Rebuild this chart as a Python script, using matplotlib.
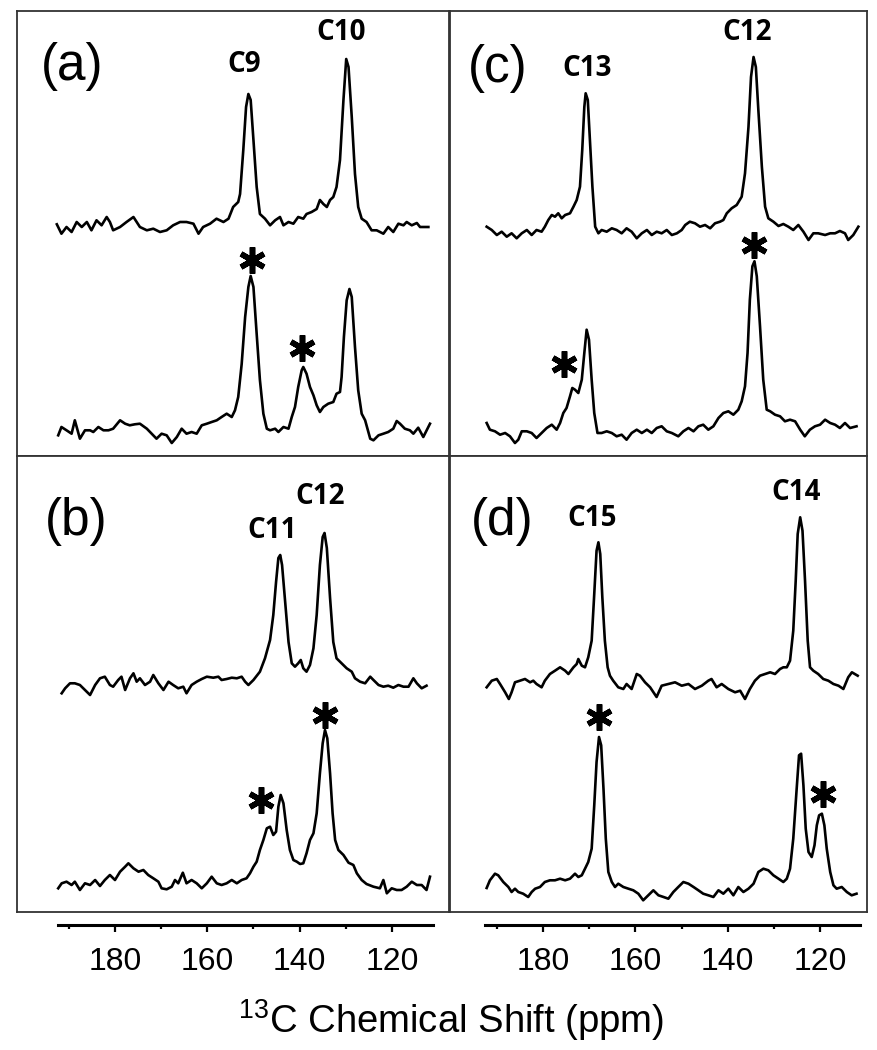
import matplotlib.pyplot as plt
import numpy as np

plt.rcParams['font.family'] = ['Liberation Sans', 'DejaVu Sans']

# ---- spectra: (ppm, intensity), intensity in arbitrary units ----
a_top_ppm = [192.6, 191.6, 190.5, 189.4, 188.3, 187.2, 186.1, 185.1, 184.0, 182.9, 181.8, 181.1, 180.4,
             178.9, 177.5, 176.0, 174.6, 173.1, 171.7, 170.25, 168.8, 167.4, 165.9, 164.5, 163.0, 161.9,
             160.9, 159.4, 158.0, 156.5, 155.4, 154.4, 153.3, 152.9, 152.2, 151.6, 151.1, 150.6, 150.0,
             149.3, 148.6, 147.5, 146.4, 145.3, 144.25, 143.5, 142.4, 141.35, 140.3, 139.2, 138.5, 137.4,
             136.3, 135.6, 134.85, 134.1, 133.4, 132.7, 132.0, 131.25, 130.5, 129.9, 129.4, 128.7, 128.0,
             127.3, 126.55, 125.5, 124.4, 123.3, 121.85, 120.8, 119.7, 118.6, 117.5, 116.8, 115.7, 114.6,
             113.9, 112.1]
a_top_int = [2.7, -6.7, 0, -5, 5, 0, 5, -3.3, 6.7, 1.7, 10, 5, -3.3,
             0, 5, 10, 0, -3.3, -1.7, -5, -3.3, 1.7, 5, 5, 3.3, -6.7,
             0, 3.3, 8.3, 5, 8.3, 20, 25, 33, 77, 120, 133, 127, 87,
             40, 13, 8.3, 1.7, 6.7, 10, 1.7, 5, 3.3, 10, 8.3, 13, 15,
             18, 27, 23, 20, 27, 30, 40, 67, 127, 168, 160, 110, 53,
             20, 8.3, 5, -3.3, -3.3, -6.7, 0, -5, 3.3, 1.7, 5, 1.7, 4,
             0, 0]

a_bot_ppm = [192.3, 191.6, 190.5, 189.4, 188.7, 187.6, 186.5, 185.4, 184.7, 183.6, 182.5, 181.4, 180.4,
             178.9, 177.8, 176.8, 175.7, 174.6, 173.1, 172.05, 171.0, 169.9, 168.8, 167.7, 166.6, 165.55,
             164.5, 163.4, 162.3, 161.2, 160.1, 159.05, 157.95, 156.9, 155.8, 154.7, 154.0, 153.3, 152.55,
             151.8, 151.1, 150.6, 150.0, 149.3, 148.6, 147.85, 147.1, 146.4, 145.3, 144.6, 143.5, 142.4,
             141.7, 141.0, 140.3, 139.55, 139.2, 138.5, 137.75, 137.0, 136.3, 135.6, 134.85, 133.8, 132.7,
             132.0, 131.25, 130.9, 130.4, 129.8, 129.2, 128.7, 128.0, 127.3, 126.55, 125.8, 124.7, 124.0,
             122.9, 121.85, 120.8, 119.7, 118.96, 118.25, 117.2, 116.1, 115.35, 114.3, 113.2, 111.75]
a_bot_int = [-3.3, 5, 1.7, -1.7, 11.7, -6.7, 1.7, 1.7, 0, 5, 1.7, 1.7, 3.3,
             11.7, 8.3, 6.7, 7.7, 8.3, 3.3, -1.7, -6.7, -1.7, -3.3, -11, -5, 3.3,
             -1.7, 0, -1.7, 6.7, 8.3, 10, 11.7, 15, 18.3, 15, 21.7, 35, 68,
             115, 145, 156, 145, 98, 52, 18.3, 3.3, 1.7, 3.3, 0, 5, 3.3,
             15, 25, 45, 61.7, 65, 58.3, 45, 36.7, 26.7, 20, 25, 28.3, 30,
             38.3, 40, 55, 95, 131.7, 143, 135, 85, 41.7, 18.3, 11.7, -6.7, -8.3,
             -3.3, -1.7, 0, 3.3, 11, 8.3, 3.3, 1.7, -1.7, 4.3, -5, 8.3]

b_top_ppm = [191.55, 190.8, 189.75, 188.7, 187.6, 186.5, 185.4, 184.3, 183.25, 182.2, 181.1, 180.4, 179.3,
             178.6, 177.8, 176.75, 176.0, 175.3, 174.6, 173.5, 172.4, 171.7, 170.6, 169.5, 168.4, 167.4,
             166.3, 165.2, 164.5, 163.4, 162.3, 161.2, 160.1, 158.7, 157.6, 156.9, 155.8, 154.7, 153.6,
             152.55, 151.8, 151.1, 150.0, 148.6, 147.5, 146.4, 145.7, 145.1, 144.6, 144.2, 143.8, 143.2,
             142.4, 141.7, 141.0, 140.3, 139.75, 139.2, 138.5, 137.75, 137.0, 136.3, 135.6, 135.0, 134.6,
             134.1, 133.4, 132.7, 132.0, 130.9, 129.8, 128.7, 128.0, 126.9, 125.8, 124.7, 124.0, 122.9,
             121.85, 120.8, 119.7, 118.6, 117.5, 116.4, 115.35, 114.6, 113.55, 112.5]
b_top_int = [-8.3, -3.3, 1.7, 1.7, 0, -5, -10, 0, 6.7, 8.3, 0, -1.7, 5,
             8.3, -5, 6.7, 11.7, 3.3, 6.7, 0, 3.3, 10, 1.7, -5, 3.3, 0,
             -3.3, -1.7, -8.3, 0, 3.3, 6, 8.3, 7.3, 8.3, 5, 6, 7.3, 6.7,
             8.3, 3.3, 0, 5, 13.3, 26.7, 45, 70, 103, 127, 130, 120, 87,
             43, 21.7, 18.3, 21.7, 25, 16.7, 13.3, 20, 36.7, 70, 120, 148, 152,
             137, 87, 43, 26.7, 21.7, 16.7, 13.3, 6.7, 3.3, 1.7, 8.3, 5, 0,
             -1.7, -0.7, -2.7, 0, -1.7, -1.7, 6.7, 1.7, -3.3, -0.7]

b_bot_ppm = [192.3, 191.55, 190.5, 189.4, 188.7, 187.6, 186.5, 185.4, 184.3, 183.25, 182.2, 181.1, 180.0,
             178.9, 177.8, 177.1, 176.0, 174.9, 173.85, 172.8, 171.7, 170.6, 169.9, 168.8, 167.7, 167.0,
             166.3, 165.3, 164.5, 163.4, 162.3, 161.2, 160.1, 159.05, 157.95, 156.9, 155.8, 154.7, 153.6,
             152.55, 151.5, 150.75, 150.0, 149.3, 148.6, 147.85, 147.1, 146.4, 145.7, 145.1, 144.6, 144.1,
             143.5, 142.8, 142.1, 141.35, 140.6, 139.9, 139.2, 138.5, 137.75, 137.0, 136.3, 135.6, 135.0,
             134.5, 134.0, 133.4, 132.85, 132.3, 131.6, 130.5, 129.4, 128.35, 127.6, 126.55, 125.5, 124.0,
             122.6, 121.85, 121.1, 120.05, 118.96, 117.9, 116.8, 115.7, 114.6, 113.55, 112.5, 111.75]
b_bot_int = [-3.3, 1.7, 3.3, 0, 3.3, -5, 1.7, 0, 5, -1, 5, 10, 5,
             13.3, 18.3, 21.7, 16.7, 13.3, 15, 10, 6.7, 3.3, -3.3, -4.3, -1.7, 5,
             1.7, 12.3, 1.7, 5, 1.7, -3.3, 1.7, 8.3, 1.7, 0, 1.7, 5, 1.7,
             5, 6.7, 11.7, 18.3, 23.3, 35, 45, 56.7, 58.3, 50, 53.3, 78.3, 90,
             81.7, 55, 35, 25, 23.3, 21, 21.7, 31.7, 45, 51.7, 71.7, 111.7, 141.7,
             155, 146.7, 111.7, 71.7, 45, 35, 30, 22.3, 20, 11.7, 5, 1, -1.7,
             -3.3, 5, -8.3, -3.3, -5, -5, -1.7, 3.3, 0, 0, -5, 8.3]

c_top_ppm = [192.2, 191.1, 190.0, 188.95, 187.85, 186.8, 185.7, 184.6, 183.5, 182.45, 181.4, 180.3, 179.6,
             178.85, 178.1, 177.4, 176.7, 175.95, 175.2, 174.15, 173.4, 172.7, 171.99, 171.5, 171.05, 170.76,
             170.3, 169.8, 169.3, 168.7, 168.0, 167.3, 166.2, 165.1, 164.05, 162.96, 161.9, 160.8, 159.7,
             158.6, 157.5, 156.45, 155.37, 154.3, 153.2, 152.1, 151.0, 149.96, 149.2, 148.2, 147.08, 146.0,
             144.9, 143.8, 142.75, 141.66, 140.94, 140.2, 139.14, 138.05, 136.97, 136.25, 135.5, 134.95, 134.4,
             133.9, 133.36, 132.6, 131.9, 131.2, 130.1, 129.0, 127.95, 126.86, 125.8, 124.7, 123.6, 122.5,
             121.45, 120.4, 118.9, 117.8, 116.75, 115.7, 114.6, 113.9, 112.8, 111.7]
c_top_int = [3.3, 0, -5, -1.7, -6.7, -3.3, -8.3, -3.3, 0, -5, 0, -1.7, 3.3,
             10, 15, 13.3, 16.7, 11.7, 15, 16.7, 23.3, 30, 43.3, 80, 123, 136.7,
             130, 86.7, 43.3, 3.3, -3.3, 0, -1.7, 1.7, 0, -3.3, 1.7, -1.7, -8.3,
             -3.3, 0, -5, -1.7, -3.3, 0, -5, -3.3, 0, 5, 8.3, 6.7, 3.3,
             5, 1.7, 6.7, 8.3, 10, 16.7, 21.7, 25, 33.3, 56.7, 103, 153, 173,
             163, 120, 63.3, 23.3, 11.7, 8.3, 4, 6, 3.3, 0, 5, -1.7, -10,
             -3.3, -3.3, -5, -3.3, -3.3, -1, -3.3, -10, -5, 3.3]

c_bot_ppm = [192.2, 191.5, 190.4, 189.3, 188.2, 187.15, 186.07, 185.35, 184.6, 183.5, 182.45, 181.4, 180.3,
             179.2, 178.1, 177.04, 176.3, 175.6, 174.9, 174.15, 173.65, 173.07, 172.35, 171.6, 171.05, 170.55,
             170.04, 169.46, 168.9, 168.2, 167.3, 166.2, 165.1, 164.05, 162.96, 161.9, 160.8, 159.7, 158.6,
             157.5, 156.45, 155.37, 154.3, 153.2, 152.1, 150.7, 149.6, 148.5, 147.4, 146.35, 145.3, 144.2,
             143.1, 142.0, 140.94, 139.86, 138.77, 137.7, 136.97, 136.25, 135.7, 135.2, 134.65, 134.2, 133.7,
             133.0, 132.3, 131.55, 130.8, 129.75, 128.66, 127.6, 126.5, 125.4, 124.3, 123.3, 122.2, 121.1,
             120.0, 118.9, 117.8, 116.75, 115.7, 114.6, 113.5, 112.1]
c_bot_int = [10, 3.3, 1.7, -1.7, 0, -3.3, -10, -6.7, 1.7, 1.7, 0, -5, 0,
             5, 8.3, 3.3, 10, 20, 25, 36.7, 45, 43.3, 40, 53.3, 80, 103.3,
             93.3, 53.3, 20, 0, 0, 1.7, 0, -3.3, -1.7, -6.7, 0, 3.3, 0,
             3.3, 0, 5, 6.7, 1.7, 0, -3.3, 1.7, 5, 1.7, 6.7, 8.3, 3.3,
             6.7, 15, 20, 21.7, 18.3, 23.3, 31.7, 46.7, 80, 133.3, 166.7, 171.7, 156.7,
             106.7, 53.3, 23.3, 21.7, 18.3, 16.7, 11.7, 13.3, 11.7, 3.3, -3.3, 3.3, 6.7,
             8.3, 13.3, 10, 8.3, 5, 10, 5, 6.7]

d_top_ppm = [192.2, 191.1, 190.0, 189.3, 188.2, 187.4, 186.8, 186.07, 185.0, 183.9, 182.8, 182.1, 181.4,
             180.3, 179.6, 178.5, 177.4, 176.3, 175.2, 174.5, 173.4, 172.7, 172.35, 171.6, 170.9, 170.2,
             169.46, 168.9, 168.4, 168.0, 167.6, 167.15, 166.6, 166.0, 165.5, 164.8, 163.7, 162.6, 161.9,
             160.8, 159.7, 159.0, 157.9, 156.8, 155.4, 154.3, 152.85, 151.4, 149.96, 148.5, 147.08, 145.6,
             144.2, 143.5, 142.4, 141.3, 139.86, 138.4, 137.3, 136.25, 135.2, 134.1, 133.0, 131.9, 130.8,
             129.75, 128.66, 127.95, 127.2, 126.5, 125.8, 125.27, 124.84, 124.3, 123.8, 123.25, 122.67, 122.17,
             121.45, 120.4, 119.3, 118.2, 117.1, 116.0, 114.95, 113.9, 113.1, 111.85]
d_top_int = [-3.3, 3.3, 5, 0, -8.3, -15, -8.3, 1.7, 3.3, 5, 1.7, 3.3, 0,
             -3.3, 3.3, 10, 13.3, 16.7, 13.3, 10, 16.7, 20, 25, 18.3, 16.7, 26.7,
             43.3, 90, 133.3, 141.7, 130, 86.7, 43.3, 16.7, 8.3, 3.3, -3.3, -5, 0,
             -5, 10, 8.3, 1.7, -3.3, -13, -1.7, 0, 1.7, -1.7, 0, -5, -1.7,
             3.3, 5, -3.3, 0, -5, -8.3, -6.7, -15, -5, 3.3, 8.3, 10, 11.7,
             10, 15, 16.7, 16.7, 23.3, 53.3, 103.3, 150, 166.7, 153.3, 103.3, 43.3, 16.7,
             13.3, 10, 5, 3.3, 0, -1.7, -5, 6.7, 11.7, 8.3]

d_bot_ppm = [192.2, 191.5, 190.4, 189.7, 188.6, 187.5, 186.8, 186.07, 185.35, 184.3, 183.2, 182.45, 181.7,
             180.65, 179.6, 178.5, 177.4, 176.3, 175.2, 174.15, 173.07, 172.35, 171.6, 170.9, 170.2, 169.46,
             168.9, 168.4, 167.87, 167.4, 166.9, 166.4, 165.85, 165.1, 164.4, 163.7, 162.6, 161.5, 160.44,
             159.35, 158.3, 157.2, 156.1, 155.0, 153.9, 152.85, 151.77, 150.7, 149.6, 148.5, 147.4, 146.35,
             145.3, 144.2, 143.1, 142.0, 140.94, 139.86, 138.77, 137.7, 136.6, 135.5, 134.4, 133.36, 132.27,
             131.2, 130.1, 129.0, 127.95, 127.2, 126.5, 125.8, 125.06, 124.55, 124.1, 123.6, 123.1, 122.5,
             121.8, 121.2, 120.7, 120.2, 119.6, 119.06, 118.55, 117.8, 117.1, 116.4, 115.3, 114.2, 113.15,
             112.1]
d_bot_int = [4, 11.7, 18.3, 16.7, 10, 5, 0, 3.3, 0, -1.7, -5, 0, 3.3,
             5, 10, 11.7, 11.7, 13.3, 11.7, 13.3, 18.3, 15, 16.7, 23.3, 30, 43.3,
             86.7, 130, 155, 146.7, 103.3, 53.3, 20, 10, 5, 8.3, 5, 3.3, 1.7,
             -1.7, -8.3, -3.3, 1.7, -3.3, -5, -6.7, 0, 5, 10, 8.3, 5, 1.7,
             -1.7, -3.3, -5, 1.7, -1.7, 3.3, -3.3, 5, 0, 3.3, 8.3, 20, 23.3,
             21.7, 16.7, 13.3, 10, 13.3, 23.3, 53.3, 103.3, 136.7, 138.3, 106.7, 63.3, 40,
             35, 46.7, 66.7, 76.7, 78.3, 66.7, 43.3, 20, 6.7, 3.3, 5, 0, -3.3,
             -1.7]

# peak assignments (label, ppm, height) and marked peaks (ppm, height)
a_labels = [("C9", 152.0, 391), ("C10", 131.0, 423)]
b_labels = [("C11", 146.0, 382), ("C12", 135.6, 416)]
c_labels = [("C13", 170.5, 388), ("C12", 135.7, 423)]
d_labels = [("C15", 169.4, 393), ("C14", 125.2, 420)]
a_stars = [(150.3, 196), (139.5, 108)]
b_stars = [(148.4, 112), (134.5, 197)]
c_stars = [(175.45, 92), (134.3, 211)]
d_stars = [(167.9, 195), (119.35, 118)]

W, H = 878, 1050
fig = plt.figure(figsize=(W / 100, H / 100), dpi=100)


def px_axes(x0, y0, x1, y1):
    return fig.add_axes([x0 / W, 1 - y1 / H, (x1 - x0) / W, (y1 - y0) / H])


panels = [
    ("(a)", (17, 11, 449, 456), (201.23, 107.63), (a_top_ppm, a_top_int, 229), (a_bot_ppm, a_bot_int, 24),
     a_labels, a_stars, (0.127, 0.876)),
    ("(b)", (17, 456, 449, 912), (201.23, 107.63), (b_top_ppm, b_top_int, 227), (b_bot_ppm, b_bot_int, 27),
     b_labels, b_stars, (0.137, 0.857)),
    ("(c)", (450, 11, 867, 456), (200.14, 109.83), (c_top_ppm, c_top_int, 226), (c_bot_ppm, c_bot_int, 23),
     c_labels, c_stars, (0.115, 0.870)),
    ("(d)", (450, 456, 867, 912), (200.14, 109.83), (d_top_ppm, d_top_int, 228), (d_bot_ppm, d_bot_int, 20),
     d_labels, d_stars, (0.125, 0.857)),
]

for tag, box, xl, top, bot, labels, stars, tagpos in panels:
    ax = px_axes(*box)
    ax.set_xlim(*xl)
    ax.set_ylim(0, box[3] - box[1])
    for ppm, inten, off in (top, bot):
        ax.plot(ppm, np.array(inten) + off, color='black', lw=1.9, solid_joinstyle='round')
    for txt, x, y in labels:
        ax.text(x, y, txt, ha='center', va='center', fontsize=20, fontweight='bold',
                family=['Open Sans', 'DejaVu Sans'])
    for x, y in stars:
        ax.plot(x, y, marker=(6, 2, 0), ms=19, mew=4, color='black')
    ax.text(*tagpos, tag, transform=ax.transAxes, ha='center', va='center', fontsize=37)
    ax.set_xticks([])
    ax.set_yticks([])
    for s in ax.spines.values():
        s.set_linewidth(1.3)
        s.set_color('#333333')

# ppm scales under each column
for box, xl, bounds in [((17, 924, 449, 925), (201.23, 107.63), (192.4, 111.1)),
                        ((450, 924, 867, 925), (200.14, 109.83), (192.6, 111.3))]:
    sx = px_axes(*box)
    sx.set_xlim(*xl)
    sx.patch.set_visible(False)
    for k in ('top', 'left', 'right'):
        sx.spines[k].set_visible(False)
    sx.spines['bottom'].set_bounds(*bounds)
    sx.spines['bottom'].set_linewidth(2.2)
    sx.set_yticks([])
    sx.set_xticks([180, 160, 140, 120])
    sx.set_xticks([190, 170, 150, 130], minor=True)
    sx.tick_params(axis='x', which='major', direction='out', length=5, width=1.6, labelsize=23, pad=11)
    sx.tick_params(axis='x', which='minor', direction='out', length=3, width=1.6)

fig.text(451 / W, 1 - 1020 / H, r'$\mathregular{^{13}}$C Chemical Shift (ppm)', ha='center', va='center',
         fontsize=27.5)

fig.savefig('out.png', dpi=100)
